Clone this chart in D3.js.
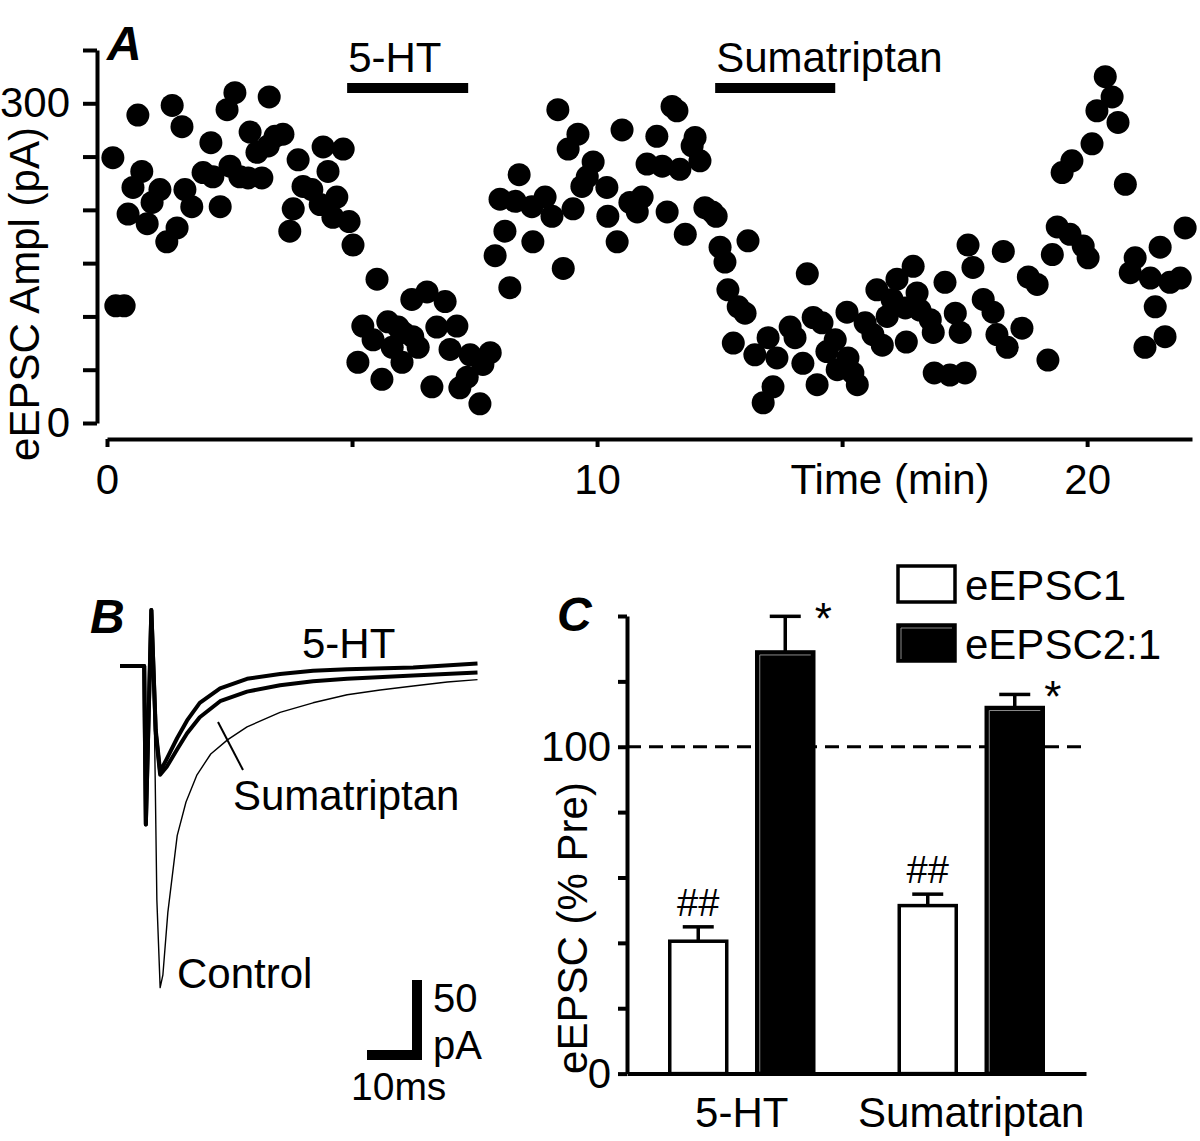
<!DOCTYPE html>
<html><head><meta charset="utf-8">
<script src="https://cdn.jsdelivr.net/npm/d3@7"></script>
<style>
body{margin:0;background:#fff}
svg{display:block}
text{font-family:"Liberation Sans",Arial,Helvetica,sans-serif;fill:#000}
</style>
</head><body>
<svg id="chart" width="1200" height="1141"></svg>
<script>
// ================= DATA =================
// Panel A: eEPSC amplitude vs time
const timeMin = [
0.12,0.18,0.35,0.43,0.53,0.63,0.71,0.82,0.92,1.08,
1.22,1.33,1.43,1.53,1.59,1.73,1.96,2.12,2.16,2.31,
2.45,2.51,2.61,2.71,2.88,2.92,3.06,3.16,3.29,3.31,
3.43,3.59,3.73,3.80,3.90,4.00,4.18,4.35,4.41,4.51,
4.61,4.69,4.82,4.94,5.02,5.12,5.22,5.43,5.51,5.61,
5.73,5.82,5.94,6.02,6.04,6.22,6.24,6.35,6.53,6.63,
6.73,6.90,7.00,7.14,7.20,7.35,7.41,7.61,7.67,7.82,
7.92,8.02,8.12,8.22,8.33,8.41,8.67,8.69,8.94,9.08,
9.20,9.31,9.41,9.51,9.61,9.69,9.80,9.92,10.20,10.22,
10.41,10.51,10.67,10.82,10.92,11.02,11.22,11.33,11.43,11.53,
11.63,11.69,11.80,11.94,12.00,12.10,12.20,12.35,12.43,12.51,
12.61,12.67,12.78,12.88,13.02,13.08,13.22,13.39,13.49,13.59,
13.67,13.94,14.04,14.20,14.29,14.41,14.49,14.59,14.69,14.86,
14.90,15.10,15.12,15.22,15.31,15.47,15.63,15.71,15.82,15.92,
16.02,16.12,16.29,16.31,16.45,16.53,16.59,16.80,16.86,16.88,
17.10,17.20,17.31,17.41,17.51,17.57,17.67,17.88,18.08,18.16,
18.29,18.37,18.67,18.80,18.98,19.20,19.29,19.39,19.49,19.65,
19.69,19.92,20.02,20.10,20.20,20.37,20.51,20.63,20.78,20.88,
20.98,21.18,21.29,21.39,21.49,21.59,21.69,21.90,22.00];
const amplPA = [
249,110,110,196,221,289,236,187,207,219,
170,298,183,278,219,203,235,263,231,203,
294,241,310,231,230,273,254,230,260,306,
269,271,180,201,247,222,219,205,259,236,
193,212,257,189,167,57,91,78,135,41,
95,71,90,57,85,116,81,71,123,34,
90,114,69,91,33,43,64,18,55,66,
157,210,180,127,208,233,203,170,212,194,
294,145,257,201,271,222,231,245,221,194,
170,275,207,198,212,243,269,241,198,297,
293,238,177,260,268,246,202,198,194,165,
151,125,75,109,103,171,64,19,80,34,
61,90,80,56,140,99,36,94,67,78,
50,104,61,47,36,94,83,125,73,100,
116,135,108,76,147,122,106,97,85,47,
132,45,103,85,47,167,146,116,104,83,
161,71,89,137,130,59,158,184,235,177,
246,166,155,262,293,325,306,282,224,141,
155,71,136,109,165,81,132,136,183];
const drugNames = ["5-HT","Sumatriptan"];
const drugStart = [4.9, 12.41];
const drugEnd = [7.37, 14.86];
const ampTicks = [0,50,100,150,200,250,300,350];
const ampTickLabels = [0,300];
const timeTicks = [0,5,10,15,20];
const timeTickLabels = [0,10,20];

// Panel B: example traces (ms, pA)
const ctrlT = [0,4.4,4.7,5.7,6.2,6.7,7.3,7.8,8.7,10.4,12.0,14.0,16.5,19.6,23.1,29.1,35.1,41.3,47.3,53.3,59.5,65];
const ctrlI = [0,0,-99,35,-21,-146,-201,-193,-154,-106,-85,-68,-55,-46,-38,-29,-23,-18,-15,-12.5,-10,-8.5];
const htT = [0,4.4,4.7,5.7,6.5,7.3,8.5,10.4,12.2,14.5,18.2,23.1,29.1,35.1,41.3,53.3,65];
const htI = [0,0,-99,35,-40,-66,-58,-45,-34,-23,-14,-8,-5,-3,-2,-1,1.5];
const sumaT = [0,4.4,4.7,5.7,6.5,7.3,8.5,10.4,12.2,14.5,18.2,23.1,29.1,35.1,41.3,53.3,65];
const sumaI = [0,0,-99,35,-42,-68,-63,-52,-42,-32,-22,-16,-12,-9.5,-8,-6,-4];
const scaleBarMs = 10;
const scaleBarPA = 50;

// Panel C: bar chart
const groups = ["5-HT","Sumatriptan"];
const seriesNames = ["eEPSC1","eEPSC2:1"];
const meanE1 = [40.5, 51.4];
const semE1 = [4.4, 3.5];
const meanE2 = [129, 112];
const semE2 = [10.9, 4];
const sigE1 = ["##","##"];
const sigE2 = ["*","*"];
const pctTicks = [0,20,40,60,80,100,120,140];
const pctTickLabels = [0,100];

// ================= DRAW =================
const svg = d3.select("#chart");
const FS = 42;

function styleAxis(g, sw){
  g.selectAll(".domain").attr("stroke","#000").attr("stroke-width",sw);
  g.selectAll(".tick line").attr("stroke","#000").attr("stroke-width",sw);
  g.selectAll(".tick text").attr("font-size",FS).attr("fill","#000")
    .attr("font-family","'Liberation Sans',Arial,sans-serif");
}

// ---- Panel A ----
const xA = d3.scaleLinear().domain([0,22.14]).range([107,1192]);
const yA = d3.scaleLinear().domain([0,350]).range([423,50]);
const gA = svg.append("g");
const yAxA = gA.append("g").attr("transform","translate(97,0)")
  .call(d3.axisLeft(yA).tickValues(ampTicks).tickSize(14).tickSizeOuter(0).tickPadding(13)
    .tickFormat(d => ampTickLabels.includes(d) ? d : ""));
styleAxis(yAxA,4);
const xAxA = gA.append("g").attr("transform","translate(0,439)")
  .call(d3.axisBottom(xA).tickValues(timeTicks).tickSize(8).tickSizeOuter(0).tickPadding(17)
    .tickFormat(d => timeTickLabels.includes(d) ? d : ""));
styleAxis(xAxA,4);

gA.selectAll("circle.pt").data(timeMin.map((t,i)=>[t,amplPA[i]])).join("circle")
  .attr("class","pt").attr("cx",d=>xA(d[0])).attr("cy",d=>yA(d[1])).attr("r",11.5).attr("fill","#000");

drugNames.forEach((n,i)=>{
  gA.append("rect").attr("x",xA(drugStart[i])).attr("y",83)
    .attr("width",xA(drugEnd[i])-xA(drugStart[i])).attr("height",10).attr("fill","#000");
  gA.append("text").attr("x",xA(drugStart[i])+1).attr("y",72).attr("font-size",FS).text(n);
});
gA.append("text").attr("transform","translate(39,294) rotate(-90)").attr("text-anchor","middle")
  .attr("font-size",42).text("eEPSC Ampl (pA)");
gA.append("text").attr("x",890).attr("y",494).attr("text-anchor","middle").attr("font-size",FS).text("Time (min)");
gA.append("text").attr("x",107).attr("y",60).attr("font-size",48).attr("font-weight","bold")
  .attr("font-style","italic").text("A");

// ---- Panel B ----
const xB = d3.scaleLinear().domain([0,65]).range([120,477.5]);
const yB = d3.scaleLinear().domain([-200,0]).range([986,666]);
const gB = svg.append("g");
const lineB = d3.line().x(d=>xB(d[0])).y(d=>yB(d[1]));
gB.append("path").datum(ctrlT.map((t,i)=>[t,ctrlI[i]])).attr("d",lineB)
  .attr("fill","none").attr("stroke","#000").attr("stroke-width",1.4).attr("stroke-linejoin","round");
gB.append("path").datum(sumaT.map((t,i)=>[t,sumaI[i]])).attr("d",lineB)
  .attr("fill","none").attr("stroke","#000").attr("stroke-width",4).attr("stroke-linejoin","round");
gB.append("path").datum(htT.map((t,i)=>[t,htI[i]])).attr("d",lineB)
  .attr("fill","none").attr("stroke","#000").attr("stroke-width",4).attr("stroke-linejoin","round");
// pointer for Sumatriptan label
gB.append("line").attr("x1",218).attr("y1",722).attr("x2",243).attr("y2",770)
  .attr("stroke","#000").attr("stroke-width",2);
gB.append("text").attr("x",302).attr("y",658).attr("font-size",FS).text("5-HT");
gB.append("text").attr("x",233).attr("y",810).attr("font-size",FS).text("Sumatriptan");
gB.append("text").attr("x",177).attr("y",988).attr("font-size",FS).text("Control");
// scale bar
const sbRight = 422, sbBottom = 1060;
const sbW = xB(scaleBarMs)-xB(0), sbH = yB(0)-yB(scaleBarPA);
gB.append("rect").attr("x",sbRight-10).attr("y",sbBottom-sbH).attr("width",10).attr("height",sbH).attr("fill","#000");
gB.append("rect").attr("x",sbRight-sbW).attr("y",sbBottom-10).attr("width",sbW).attr("height",10).attr("fill","#000");
gB.append("text").attr("x",433).attr("y",1012).attr("font-size",40).text(scaleBarPA);
gB.append("text").attr("x",433).attr("y",1059).attr("font-size",40).text("pA");
gB.append("text").attr("x",351).attr("y",1100).attr("font-size",39).text(scaleBarMs+"ms");
gB.append("text").attr("x",90).attr("y",633).attr("font-size",48).attr("font-weight","bold")
  .attr("font-style","italic").text("B");

// ---- Panel C ----
const yC = d3.scaleLinear().domain([0,140]).range([1073.6,616]);
const x0 = d3.scaleBand().domain(groups).range([627,1086]);
const x1 = d3.scaleBand().domain(seriesNames).range([-72,72]).paddingInner(0.345);
const gC = svg.append("g");
// dashed 100% line
gC.append("line").attr("x1",627).attr("x2",1086).attr("y1",yC(100)).attr("y2",yC(100))
  .attr("stroke","#000").attr("stroke-width",3).attr("stroke-dasharray","14,8");
const barData = [];
groups.forEach((g,gi)=>{
  barData.push({g, s:seriesNames[0], m:meanE1[gi], e:semE1[gi], sig:sigE1[gi], fill:"#fff"});
  barData.push({g, s:seriesNames[1], m:meanE2[gi], e:semE2[gi], sig:sigE2[gi], fill:"#000"});
});
const bw = x1.bandwidth();
const bx = d => x0(d.g)+x0.bandwidth()/2+x1(d.s);
barData.forEach(d=>{
  const cx = bx(d)+bw/2;
  // error bar
  gC.append("line").attr("x1",cx).attr("x2",cx).attr("y1",yC(d.m)).attr("y2",yC(d.m+d.e))
    .attr("stroke","#000").attr("stroke-width",3.5);
  gC.append("line").attr("x1",cx-15.5).attr("x2",cx+15.5).attr("y1",yC(d.m+d.e)).attr("y2",yC(d.m+d.e))
    .attr("stroke","#000").attr("stroke-width",3.5);
  gC.append("rect").attr("x",bx(d)).attr("y",yC(d.m)).attr("width",bw).attr("height",yC(0)-yC(d.m))
    .attr("fill",d.fill).attr("stroke","#000").attr("stroke-width",3.5);
  if(d.fill==="#000"){
    gC.append("path").attr("d",`M${bx(d)+3},${yC(0)-2}V${yC(d.m)+3}H${bx(d)+bw-3}`)
      .attr("fill","none").attr("stroke","#8a8a8a").attr("stroke-width",1);
  }
  if(d.sig==="##"){
    gC.append("text").attr("x",cx).attr("y",yC(d.m+d.e)-11).attr("text-anchor","middle")
      .attr("font-size",38).text(d.sig);
  } else {
    gC.append("text").attr("x",cx+38).attr("y",yC(d.m+d.e)+18).attr("text-anchor","middle")
      .attr("font-size",44).text(d.sig);
  }
});
const yAxC = gC.append("g").attr("transform","translate(627,0)")
  .call(d3.axisLeft(yC).tickValues(pctTicks).tickSize(9).tickSizeOuter(0).tickPadding(7)
    .tickFormat(d => pctTickLabels.includes(d) ? d : ""));
styleAxis(yAxC,4);
const xAxC = gC.append("g").attr("transform",`translate(0,${yC(0)})`)
  .call(d3.axisBottom(x0).tickSize(0).tickSizeOuter(0).tickPadding(24));
styleAxis(xAxC,4);
gC.append("text").attr("transform","translate(587,928) rotate(-90)").attr("text-anchor","middle")
  .attr("font-size",FS).text("eEPSC (% Pre)");
// legend
seriesNames.forEach((s,i)=>{
  const ly = 566 + i*59;
  gC.append("rect").attr("x",898).attr("y",ly).attr("width",57).attr("height",36)
    .attr("fill", i===0?"#fff":"#000").attr("stroke","#000").attr("stroke-width",3.5);
  if(i===1){
    gC.append("path").attr("d",`M901,${ly+34}V${ly+3}H952`).attr("fill","none")
      .attr("stroke","#8a8a8a").attr("stroke-width",1);
  }
  gC.append("text").attr("x",965).attr("y",ly+34).attr("font-size",FS).text(s);
});
gC.append("text").attr("x",557).attr("y",631).attr("font-size",48).attr("font-weight","bold")
  .attr("font-style","italic").text("C");
</script>
</body></html>
